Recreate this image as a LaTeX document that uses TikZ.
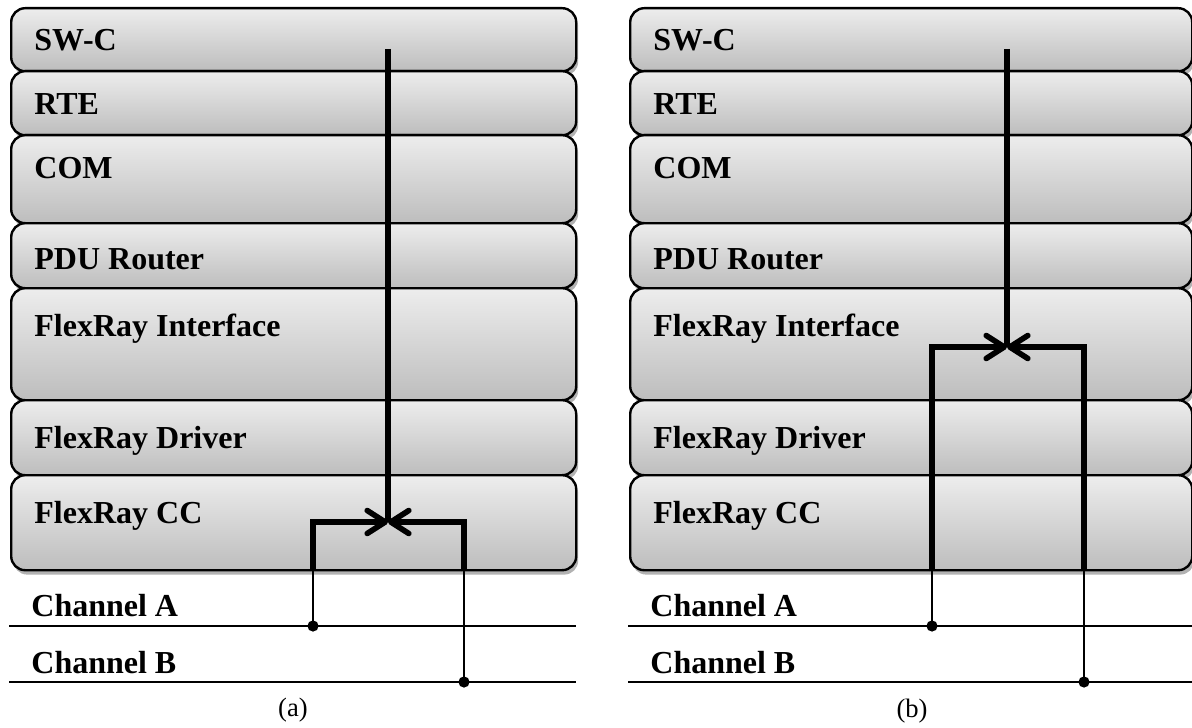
\documentclass[tikz,border=0pt]{standalone}
\usepackage{fontspec}
\setmainfont{Liberation Serif}
\usetikzlibrary{arrows.meta,shadows}

\definecolor{layertop}{HTML}{EDEDED}
\definecolor{layerbot}{HTML}{BDBDBD}

\begin{document}
\begin{tikzpicture}[x=0.5pt,y=-0.5pt,
  layer/.style={draw=black, line width=1.2pt, rounded corners=7pt,
    top color=layertop, bottom color=layerbot, inner sep=0pt,
    anchor=north west,
    drop shadow={shadow xshift=1pt, shadow yshift=-2.2pt, fill=black, opacity=0.3}},
  lbl/.style={font=\fontsize{16}{19}\selectfont\bfseries, inner sep=0pt},
  captext/.style={font=\fontsize{13.3}{16}\selectfont, inner sep=0pt},
  bus/.style={line width=2.8pt},
  wire/.style={line width=1.3pt},
  chan/.style={line width=1.2pt},
  meet/.style={-{Straight Barb[length=9pt,width=11.5pt,round]}},
]
\useasboundingbox (0,0) rectangle (1192,727);

% protocol stack of each panel
\foreach \p/\x/\w in {a/10/565, b/629/562} {
  \foreach \n/\t/\h/\b/\lab in {
      swc/7/63/51/SW-C,
      rte/70/64/115/RTE,
      com/134/88/179/COM,
      pdu/222/65/269/PDU Router,
      fri/287/112/336/FlexRay Interface,
      frd/399/75/448/FlexRay Driver,
      frc/474/95/523/FlexRay CC} {
    \node[layer, minimum width={\w*0.5pt}, minimum height={\h*0.5pt}] (\p-\n) at (\x,\t) {};
    \node[lbl, anchor=base west] (\p-\n-l) at ({\x+24},\b) {\lab};
  }
  % bus channels
  \coordinate (\p-chA-w) at ({\x-1},626);
  \coordinate (\p-chA-e) at ({\x+\w+1},626);
  \coordinate (\p-chB-w) at ({\x-1},682);
  \coordinate (\p-chB-e) at ({\x+\w+1},682);
  \draw[chan] (\p-chA-w) -- (\p-chA-e);
  \draw[chan] (\p-chB-w) -- (\p-chB-e);
  \node[lbl, anchor=base west] (\p-chA-l) at ({\x+21},616) {Channel A};
  \node[lbl, anchor=base west] (\p-chB-l) at ({\x+21},673) {Channel B};
}

% captions
\node[captext] (a-cap) at (293,710) {(a)};
\node[captext] (b-cap) at (912,711) {(b)};

% signal paths: source, meeting point and drops to the channels
\coordinate (a-src) at (388,49);
\coordinate (a-hub) at (388,522);
\coordinate (a-dropA) at (313,626);
\coordinate (a-dropB) at (464,682);

\coordinate (b-src) at (1007,49);
\coordinate (b-hub) at (1007,347);
\coordinate (b-dropA) at (932,626);
\coordinate (b-dropB) at (1084,682);

\foreach \p in {a,b} {
  \draw[bus] (\p-src) -- (\p-hub);
  \draw[bus, meet] (\p-dropA |- \p-frc.south) |- (\p-hub);
  \draw[bus, meet] (\p-dropB |- \p-frc.south) |- (\p-hub);
  \draw[wire] (\p-dropA |- \p-frc.south) -- (\p-dropA);
  \draw[wire] (\p-dropB |- \p-frc.south) -- (\p-dropB);
  \fill (\p-dropA) circle (5.6);
  \fill (\p-dropB) circle (5.6);
}
\end{tikzpicture}
\end{document}
